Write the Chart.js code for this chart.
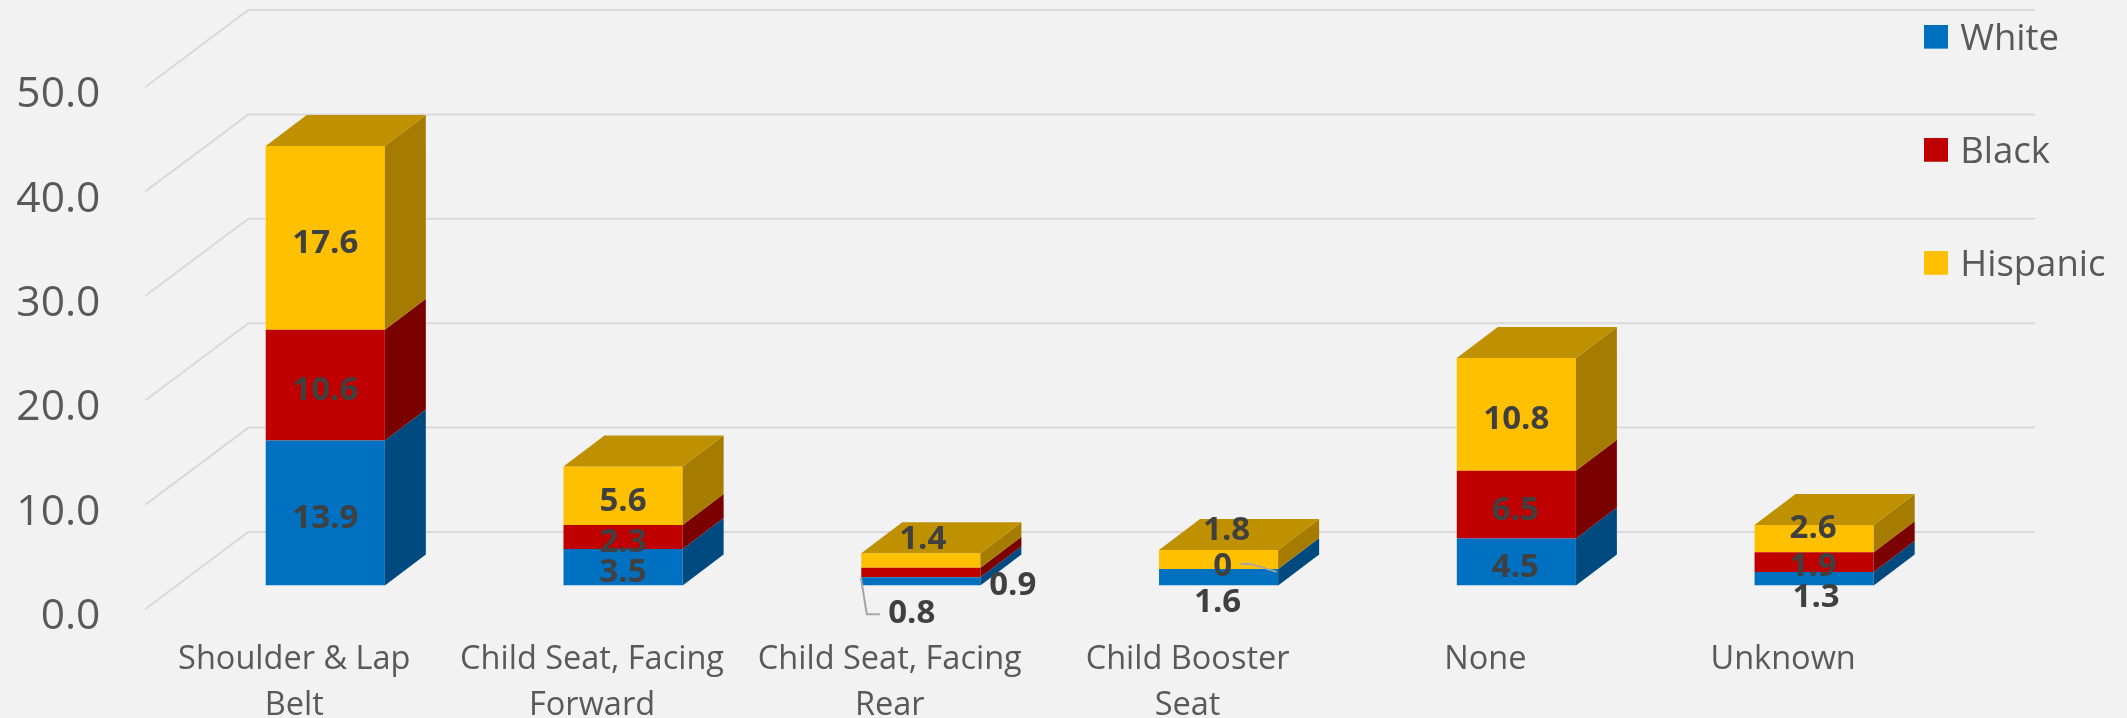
<!DOCTYPE html>
<html><head><meta charset="utf-8">
<style>html,body{margin:0;padding:0;background:#f2f2f2;overflow:hidden}canvas{display:block}</style>
<script src="https://cdn.jsdelivr.net/npm/chart.js@4/dist/chart.umd.min.js"></script>
</head><body><canvas id="c" width="2127" height="718"></canvas>
<script>
const categories=[["Shoulder & Lap","Belt"],["Child Seat, Facing","Forward"],["Child Seat, Facing","Rear"],["Child Booster","Seat"],["None"],["Unknown"]];
const white=[13.9,3.5,0.8,1.6,4.5,1.3];
const black=[10.6,2.3,0.9,0,6.5,1.9];
const hispanic=[17.6,5.6,1.4,1.8,10.8,2.6];
const seriesNames=["White","Black","Hispanic"];
const yTicks=[0,10,20,30,40,50];
// label nudges from the centre of each segment, [dx,dy] per category
const whiteNudge=[[0,2],[0,2],[-9,29],[-1,22],[-1,2],[2,15]];
const blackNudge=[[0,2],[0,2],[92,10],[4,-6],[-1,2],[-1,1]];
const hispanicNudge=[[0,2],[0,2],[2,-24],[8,-32],[0,2],[-1,-14]];
const nudges=[whiteNudge,blackNudge,hispanicNudge];
const front=["#0070c0","#c00000","#ffc000"],side=["#004a7f","#7b0000","#a67c00"],topFace="#bf9000";
const depth={dx:41,dy:31},floorFront={dx:-31,dy:23.4},floorBack={dx:72,dy:-53.6};
const labelDrop=3.5;

function legendSwatch(color){
  const s=document.createElement('canvas');s.width=24;s.height=30;
  const g=s.getContext('2d');g.fillStyle=color;g.fillRect(0,0,24,24);return s;
}
const swatches=front.map(legendSwatch);

const wall={id:'wall',beforeDatasetsDraw(ch){
  const y=ch.scales.y,a=ch.chartArea,c=ch.ctx;c.save();c.strokeStyle='#d9d9d9';c.lineWidth=2;
  yTicks.forEach(v=>{const p=y.getPixelForValue(v);c.beginPath();
    c.moveTo(a.left+floorFront.dx,p+floorFront.dy);
    c.lineTo(a.left+floorBack.dx,p+floorBack.dy);
    c.lineTo(2035,p+floorBack.dy);c.stroke();});
  c.restore();}};
const faces={id:'faces',afterDatasetsDraw(ch){
  const c=ch.ctx;c.save();
  ch.data.datasets.forEach((ds,i)=>{ch.getDatasetMeta(i).data.forEach((b,j)=>{
    if(!ds.data[j])return;
    const r=b.x+b.width/2,l=b.x-b.width/2;
    c.fillStyle=side[i];c.beginPath();c.moveTo(r,b.base);c.lineTo(r+depth.dx,b.base-depth.dy);c.lineTo(r+depth.dx,b.y-depth.dy);c.lineTo(r,b.y);c.closePath();c.fill();
    if(i===ch.data.datasets.length-1){c.fillStyle=topFace;c.beginPath();c.moveTo(l,b.y);c.lineTo(r,b.y);c.lineTo(r+depth.dx,b.y-depth.dy);c.lineTo(l+depth.dx,b.y-depth.dy);c.closePath();c.fill();}
  });});
  // leader lines tied to their segments
  const m0=ch.getDatasetMeta(0).data[2],m1=ch.getDatasetMeta(1).data[3];
  c.strokeStyle='#a6a6a6';c.lineWidth=2;
  c.beginPath();c.moveTo(m0.x-60,m0.y+0);c.lineTo(m0.x-54,m0.y+37);c.lineTo(m0.x-41,m0.y+37);c.stroke();
  c.beginPath();c.moveTo(m1.x+22,m1.y-5);c.lineTo(m1.x+32,m1.y-5);c.lineTo(m1.x+58,m1.y+3);c.stroke();
  // value labels
  c.font='bold 33px "Open Sans"';c.fillStyle='#404040';c.textAlign='center';c.textBaseline='middle';
  ch.data.datasets.forEach((ds,i)=>{ch.getDatasetMeta(i).data.forEach((b,j)=>{
    const n=nudges[i][j];c.fillText(String(ds.data[j]),b.x+n[0],(b.y+b.base)/2+n[1]+labelDrop);});});
  c.restore();}};
const placeLegend={id:'placeLegend',afterLayout(ch){
  const L=ch.legend,pad=L.options.labels.padding,half=L.options.labels.font.size/2;
  L.left=1930-pad;L.right=2127;L.top=39.6-half-pad;L.bottom=718;L.width=L.right-L.left;L.height=L.bottom-L.top;}};

new Chart(document.getElementById('c'),{type:'bar',
 data:{labels:categories,datasets:[white,black,hispanic].map((d,i)=>({label:seriesNames[i],data:d,backgroundColor:front[i],borderWidth:0,barPercentage:0.4,categoryPercentage:1}))},
 plugins:[wall,faces,placeLegend],
 options:{responsive:false,animation:false,events:[],
  layout:{padding:{left:0,right:164,top:63.6,bottom:0}},
  plugins:{tooltip:{enabled:false},
   legend:{position:'chartArea',align:'start',labels:{usePointStyle:true,pointStyleWidth:12,boxHeight:24,padding:76.6,color:'#595959',font:{family:'"Open Sans"',size:36.5},
     generateLabels(ch){return Chart.defaults.plugins.legend.labels.generateLabels(ch).map((it,i)=>Object.assign(it,{pointStyle:swatches[i]}));}}}},
  scales:{
   x:{stacked:true,afterFit(s){s.height=132.4;s.paddingLeft=0;s.paddingRight=0;},grid:{display:false,drawTicks:false},border:{display:false},
      ticks:{autoSkip:false,maxRotation:0,minRotation:0,labelOffset:-31,padding:51,color:'#595959',font:{family:'"Open Sans"',size:32.5,lineHeight:1.41}}},
   y:{stacked:true,min:0,max:50,afterFit(s){s.width=176.4;s.paddingTop=0;s.paddingBottom=0;},grid:{display:false,drawTicks:false},border:{display:false},
      afterBuildTicks(s){s.ticks=yTicks.map(v=>({value:v}));},
      ticks:{padding:76,labelOffset:31.5,color:'#595959',font:{family:'"Open Sans"',size:42.5},callback:v=>v.toFixed(1)}}
  }}});
</script></body></html>
